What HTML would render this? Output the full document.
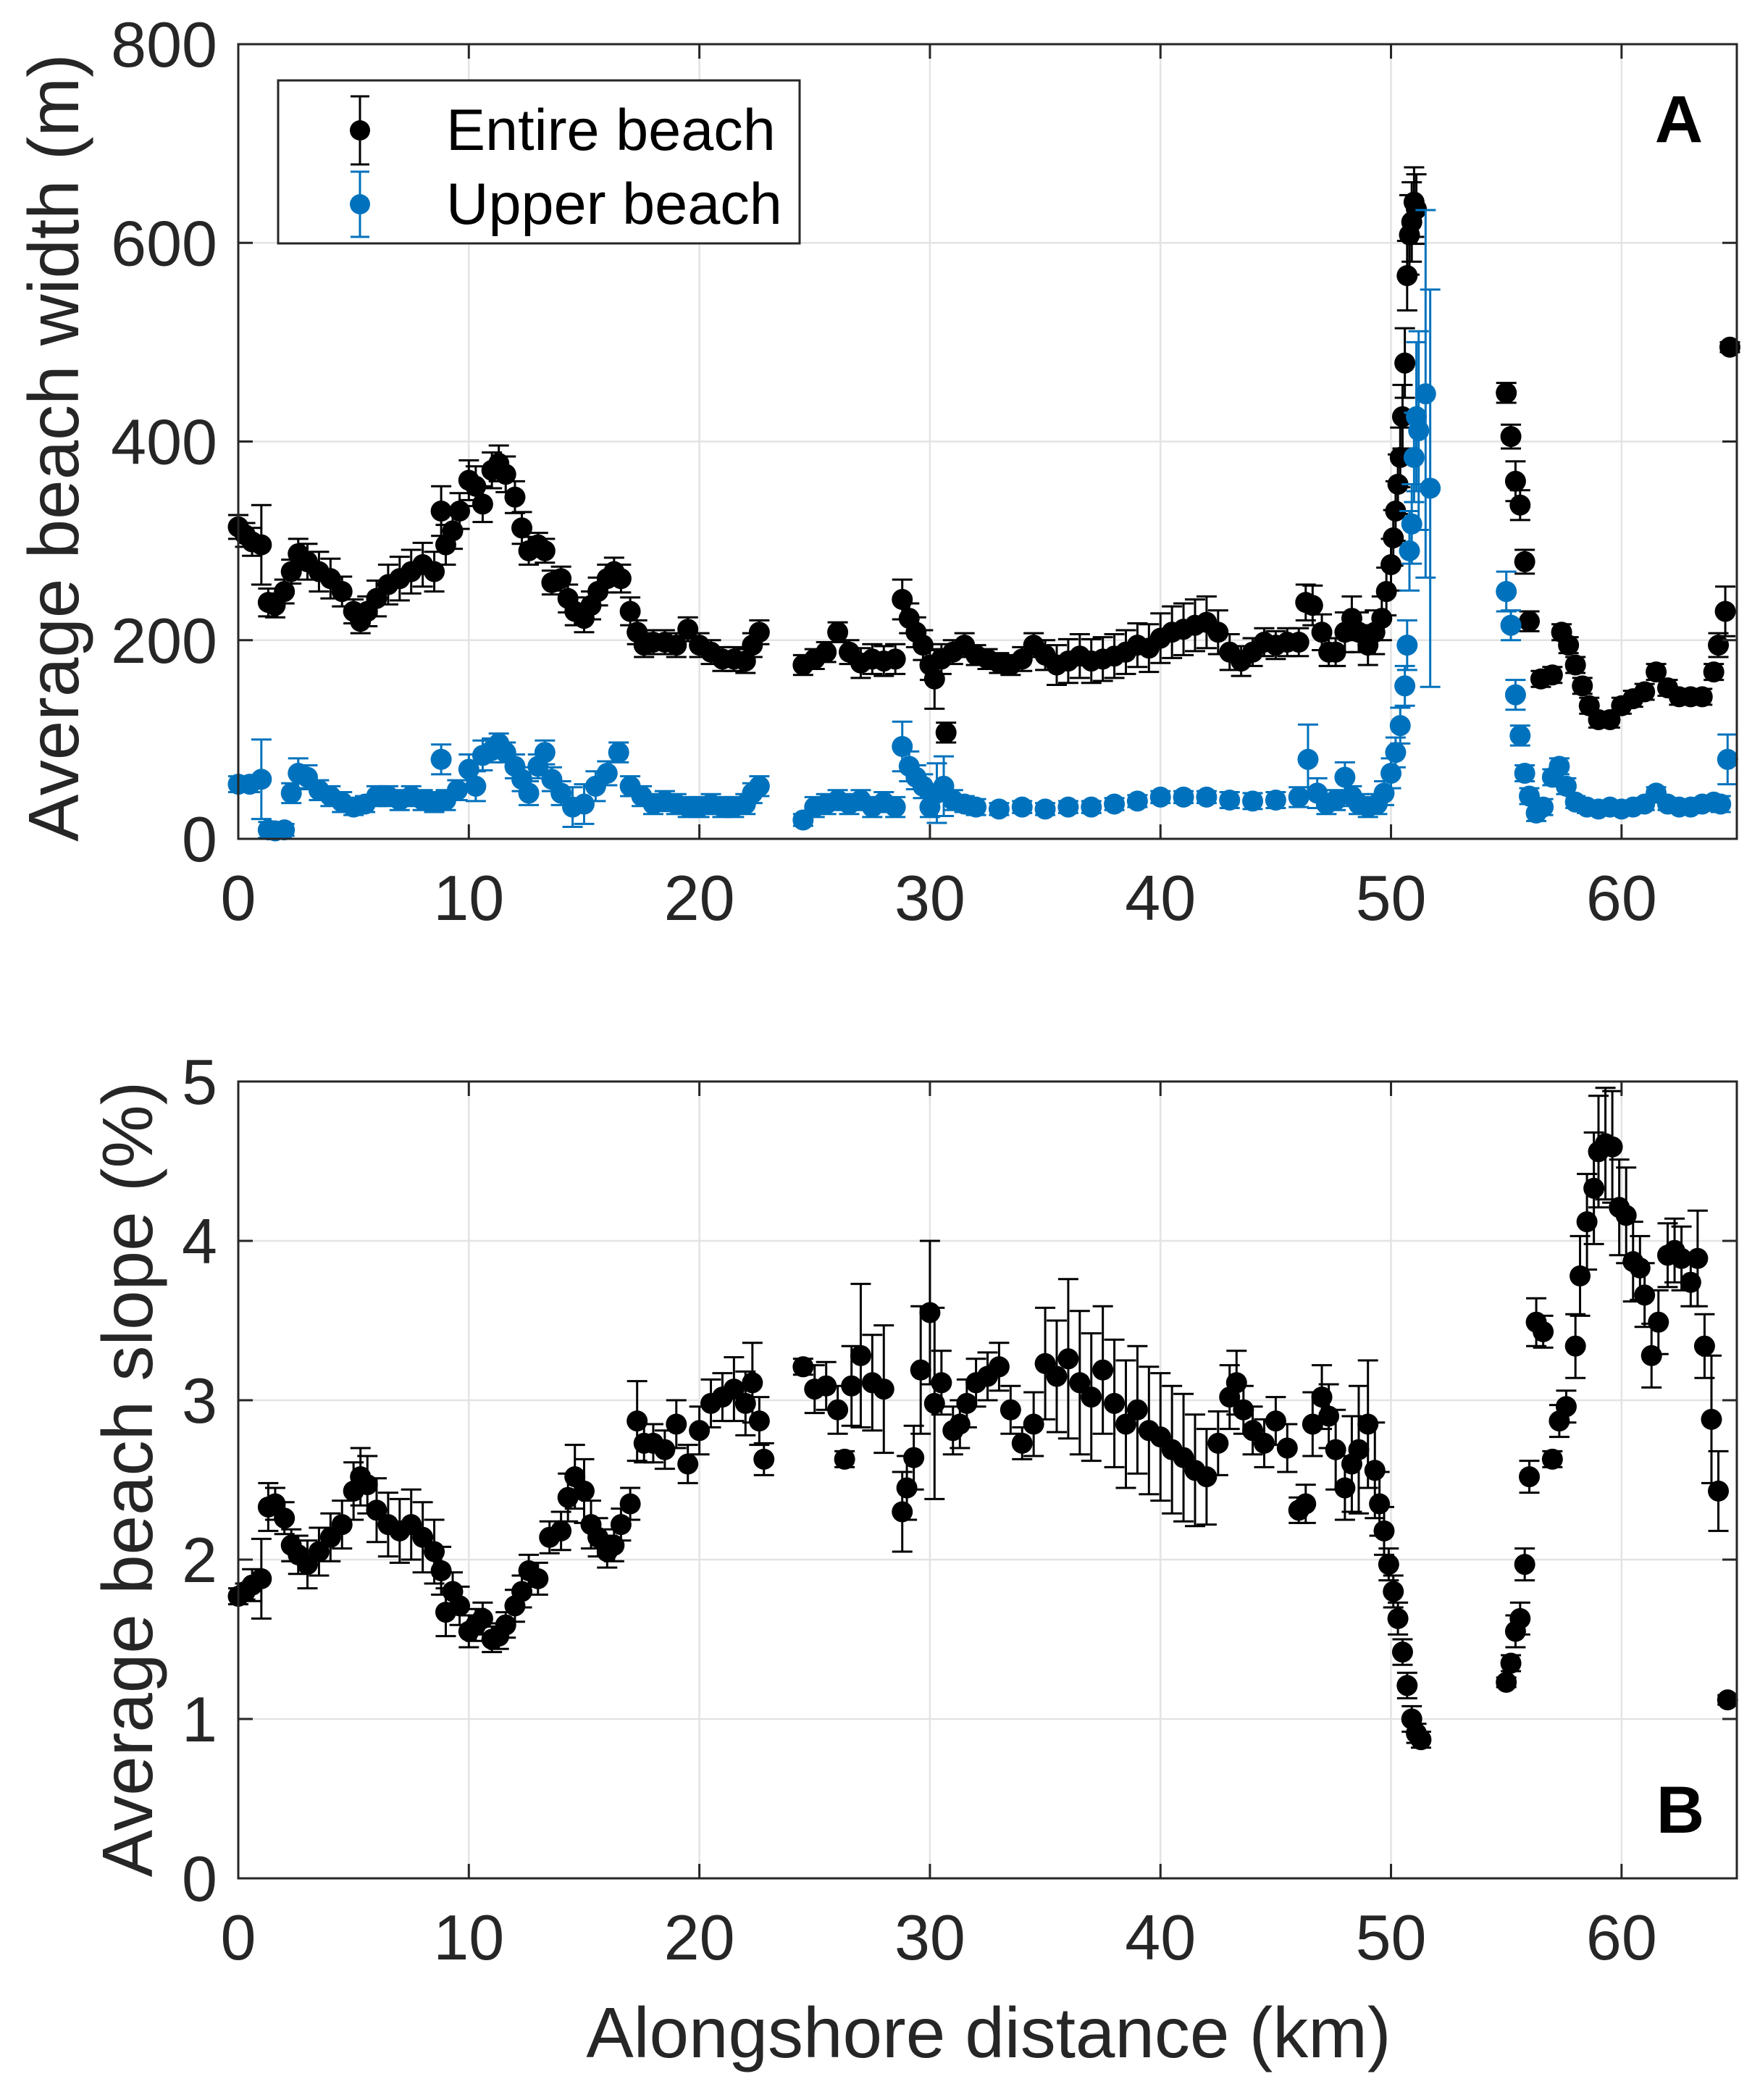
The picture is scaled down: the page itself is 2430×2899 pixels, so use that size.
<!DOCTYPE html>
<html><head><meta charset="utf-8"><style>
html,body{margin:0;padding:0;background:#fff;}
svg{display:block;}
text{font-family:"Liberation Sans",Arial,sans-serif;}
</style></head><body>
<svg id="chart" width="2430" height="2899" viewBox="0 0 2430 2899" xmlns="http://www.w3.org/2000/svg">
<rect width="2430" height="2899" fill="#fff"/>
</svg>
<script>
// ---------- Panel A data ----------
const entireX = [0,0.3,0.6,1.0,1.3,1.6,2.0,2.3,2.6,3.0,3.5,4.0,4.5,5.0,5.3,5.6,6.0,6.5,7.0,7.5,8.0,8.5,8.8,9.0,9.3,9.6,10.0,10.3,10.6,11.0,11.3,11.6,12.0,12.3,12.6,13.0,13.3,13.6,14.0,14.3,14.6,15.0,15.3,15.6,16.0,16.3,16.6,17.0,17.3,17.6,18.0,18.5,19.0,19.5,20.0,20.5,21.0,21.5,22.0,22.3,22.6,
24.5,25.0,25.5,26.0,26.5,27.0,27.5,28.0,28.5,28.8,29.1,29.4,29.7,30.0,30.2,30.5,30.7,31.0,31.5,32.0,32.5,33.0,33.5,34.0,34.5,35.0,35.5,36.0,36.5,37.0,37.5,38.0,38.5,39.0,39.5,40.0,40.5,41.0,41.5,42.0,42.5,43.0,43.5,44.0,44.5,45.0,45.5,46.0,46.3,46.6,47.0,47.3,47.6,48.0,48.3,48.6,49.0,49.3,49.6,49.8,50.0,50.1,50.2,50.3,50.4,50.5,50.6,50.7,50.8,50.9,51.0,51.1,
55.0,55.2,55.4,55.6,55.8,56.0,56.5,57.0,57.4,57.7,58.0,58.3,58.6,59.0,59.5,60.0,60.5,61.0,61.5,62.0,62.5,63.0,63.5,64.0,64.2,64.5,64.7];
const entireY = [314,306,299,296,238,235,249,269,287,279,269,262,249,229,219,229,242,256,262,269,276,269,330,296,310,330,361,355,337,371,378,367,344,313,290,296,290,258,262,242,229,222,235,249,262,269,262,229,208,195,198,198,195,211,195,188,181,181,179,195,208,
175,181,188,208,188,177,181,179,181,241,222,208,195,175,161,181,107,188,195,185,181,177,175,181,195,185,175,179,184,179,181,184,188,195,192,202,208,211,215,218,208,188,179,188,198,195,198,198,238,235,208,188,188,208,222,208,195,208,222,249,276,303,330,357,384,425,479,567,608,621,641,634,
449,405,360,336,279,219,161,165,208,195,175,154,134,120,120,134,141,148,168,152,143,143,143,168,195,229,495];
const entireErr = [12,12,14,40,14,12,12,12,15,18,20,20,15,12,12,15,18,20,22,22,22,20,25,20,18,18,20,20,18,18,18,18,16,16,14,12,12,12,12,14,14,14,14,14,14,14,14,14,12,12,12,12,12,12,12,12,12,12,12,12,12,
10,10,10,10,12,15,15,15,15,20,15,15,15,15,30,15,10,12,12,10,10,10,10,12,12,15,20,22,22,22,22,22,22,22,24,25,26,26,26,26,22,18,15,14,14,14,14,14,18,20,18,14,14,20,22,20,20,22,22,24,26,28,30,30,30,32,35,35,40,40,35,35,
10,12,20,15,12,10,8,8,8,8,8,8,8,8,8,8,8,8,8,8,8,8,8,8,12,25,5];

const upperX = [0,0.5,1.0,1.3,1.6,2.0,2.3,2.6,3.0,3.5,4.0,4.5,5.0,5.5,6.0,6.5,7.0,7.5,8.0,8.5,8.8,9.0,9.5,10.0,10.3,10.6,11.0,11.3,11.6,12.0,12.3,12.6,13.0,13.3,13.6,14.0,14.5,15.0,15.5,16.0,16.5,17.0,17.5,18.0,18.5,19.0,19.5,20.0,20.5,21.0,21.5,22.0,22.3,22.6,
24.5,25.0,25.5,26.0,26.5,27.0,27.5,28.0,28.5,28.8,29.1,29.4,29.7,30.0,30.3,30.6,31.0,31.5,32.0,33.0,34.0,35.0,36.0,37.0,38.0,39.0,40.0,41.0,42.0,43.0,44.0,45.0,46.0,46.4,46.8,47.2,47.6,48.0,48.3,48.6,49.0,49.4,49.7,50.0,50.2,50.4,50.6,50.7,50.8,50.9,51.0,51.1,51.2,51.5,51.7,
55.0,55.2,55.4,55.6,55.8,56.0,56.3,56.6,57.0,57.3,57.6,58.0,58.5,59.0,59.5,60.0,60.5,61.0,61.5,62.0,62.5,63.0,63.5,64.0,64.3,64.6];
const upperY = [55,55,60,9,8,9,46,66,62,49,43,37,32,35,43,43,39,43,39,37,80,39,49,70,53,84,89,96,87,73,60,46,73,87,60,46,32,35,53,66,87,53,43,35,38,35,32,32,35,32,32,35,46,53,
19,32,35,39,35,39,32,37,32,93,73,62,53,32,46,53,39,35,32,30,32,30,32,32,35,38,42,42,42,39,38,39,42,80,46,35,39,62,43,35,32,35,46,66,87,114,154,195,290,317,384,425,411,448,353,
249,215,145,104,66,43,26,32,62,73,53,37,32,30,32,30,32,35,46,35,32,32,35,37,35,80];
const upperErr = [8,8,40,8,6,6,10,15,12,10,10,10,8,8,10,10,10,10,10,10,15,10,10,15,15,15,12,10,10,12,12,12,12,12,12,12,20,20,15,12,10,10,10,10,10,10,10,10,10,10,10,10,10,10,
6,10,10,10,10,10,10,10,10,25,15,12,12,10,30,30,10,8,8,6,6,6,6,6,6,6,6,6,6,8,8,8,10,35,15,10,10,15,10,10,10,10,12,15,15,18,20,25,40,40,45,75,100,185,200,
20,15,15,10,8,8,8,8,8,8,8,6,6,6,6,6,6,6,6,6,6,6,6,6,8,25];

// ---------- Panel B data ----------
const slopeX = [0,0.3,0.6,1.0,1.3,1.6,2.0,2.3,2.6,3.0,3.5,4.0,4.5,5.0,5.3,5.6,6.0,6.5,7.0,7.5,8.0,8.5,8.8,9.0,9.3,9.6,10.0,10.3,10.6,11.0,11.3,11.6,12.0,12.3,12.6,13.0,13.5,14.0,14.3,14.6,15.0,15.3,15.6,16.0,16.3,16.6,17.0,17.3,17.6,18.0,18.5,19.0,19.5,20.0,20.5,21.0,21.5,22.0,22.3,22.6,22.8,
24.5,25.0,25.5,26.0,26.3,26.6,27.0,27.5,28.0,28.8,29.0,29.3,29.6,30.0,30.2,30.5,31.0,31.3,31.6,32.0,32.5,33.0,33.5,34.0,34.5,35.0,35.5,36.0,36.5,37.0,37.5,38.0,38.5,39.0,39.5,40.0,40.5,41.0,41.5,42.0,42.5,43.0,43.3,43.6,44.0,44.5,45.0,45.5,46.0,46.3,46.6,47.0,47.3,47.6,48.0,48.3,48.6,49.0,49.3,49.5,49.7,49.9,50.1,50.3,50.5,50.7,50.9,51.1,51.3,
55.0,55.2,55.4,55.6,55.8,56.0,56.3,56.6,57.0,57.3,57.6,58.0,58.2,58.5,58.8,59.0,59.3,59.6,59.9,60.2,60.5,60.8,61.0,61.3,61.6,62.0,62.3,62.6,63.0,63.3,63.6,63.9,64.2,64.6];
const slopeY = [1.77,1.8,1.84,1.88,2.33,2.35,2.26,2.09,2.03,1.97,2.05,2.14,2.22,2.43,2.52,2.47,2.31,2.22,2.18,2.22,2.14,2.05,1.93,1.67,1.8,1.71,1.55,1.59,1.63,1.5,1.52,1.59,1.71,1.8,1.93,1.88,2.14,2.18,2.39,2.52,2.43,2.22,2.14,2.05,2.09,2.22,2.35,2.87,2.73,2.73,2.69,2.85,2.6,2.81,2.98,3.02,3.07,2.98,3.11,2.87,2.63,
3.21,3.07,3.09,2.94,2.63,3.09,3.28,3.11,3.07,2.3,2.45,2.64,3.19,3.55,2.98,3.11,2.81,2.85,2.98,3.11,3.15,3.21,2.94,2.73,2.85,3.23,3.15,3.26,3.11,3.02,3.19,2.98,2.85,2.94,2.81,2.77,2.69,2.64,2.56,2.52,2.73,3.02,3.11,2.94,2.81,2.73,2.87,2.7,2.31,2.35,2.85,3.02,2.9,2.69,2.45,2.6,2.69,2.85,2.56,2.35,2.18,1.97,1.8,1.63,1.42,1.21,1.0,0.91,0.87,
1.23,1.35,1.55,1.63,1.97,2.52,3.49,3.43,2.63,2.87,2.96,3.34,3.78,4.12,4.33,4.56,4.61,4.59,4.21,4.16,3.87,3.83,3.66,3.28,3.49,3.91,3.94,3.89,3.74,3.89,3.34,2.88,2.43,1.12];
const slopeErr = [0.05,0.05,0.1,0.25,0.15,0.1,0.1,0.1,0.12,0.15,0.15,0.15,0.15,0.18,0.18,0.18,0.2,0.2,0.2,0.22,0.22,0.2,0.15,0.15,0.12,0.12,0.1,0.1,0.1,0.08,0.08,0.08,0.1,0.1,0.1,0.1,0.1,0.12,0.15,0.2,0.2,0.15,0.12,0.1,0.1,0.1,0.1,0.25,0.12,0.12,0.12,0.15,0.12,0.15,0.15,0.15,0.2,0.2,0.25,0.15,0.1,
0.05,0.15,0.15,0.15,0.05,0.25,0.45,0.3,0.4,0.25,0.2,0.2,0.4,0.45,0.6,0.2,0.15,0.15,0.15,0.15,0.15,0.15,0.15,0.1,0.2,0.35,0.35,0.5,0.45,0.4,0.4,0.4,0.4,0.4,0.4,0.4,0.4,0.4,0.35,0.3,0.2,0.2,0.2,0.15,0.15,0.15,0.15,0.15,0.08,0.12,0.2,0.2,0.2,0.25,0.2,0.3,0.4,0.4,0.3,0.2,0.15,0.1,0.1,0.1,0.08,0.08,0.08,0.06,0.05,
0.03,0.05,0.1,0.1,0.1,0.1,0.15,0.1,0.05,0.1,0.1,0.2,0.25,0.3,0.35,0.35,0.35,0.35,0.3,0.3,0.25,0.2,0.2,0.2,0.2,0.2,0.2,0.2,0.15,0.3,0.2,0.4,0.25,0.03];

const xTicks = [0,10,20,30,40,50,60];
const aTicks = [0,200,400,600,800];
const bTicks = [0,1,2,3,4,5];

const NS = 'http://www.w3.org/2000/svg';
const svg = document.getElementById('chart');
function mk(tag, attrs, parent) {
  const e = document.createElementNS(NS, tag);
  for (const k in attrs) e.setAttribute(k, attrs[k]);
  (parent || svg).appendChild(e);
  return e;
}
const L = 329, R = 2398;
const xScale = v => L + (v / 65) * (R - L);

function panel(top, bottom, ymax, yTicks, name) {
  const g = mk('g', {});
  
  
  const ys = v => bottom - (v / ymax) * (bottom - top);
  xTicks.forEach(t => {
    const l = mk('line', {x1: xScale(t), x2: xScale(t), y1: top, y2: bottom, stroke: '#e3e3e3', 'stroke-width': 2.5}, g);
    
    
  });
  yTicks.forEach(t => {
    const l = mk('line', {x1: L, x2: R, y1: ys(t), y2: ys(t), stroke: '#e3e3e3', 'stroke-width': 2.5}, g);
    
    
  });
  return {g, ys};
}
function axes(top, bottom, ymax, yTicks, ys, g) {
  const box = mk('rect', {x: L, y: top, width: R - L, height: bottom - top, fill: 'none', stroke: '#262626', 'stroke-width': 3}, g);
  
  
  xTicks.forEach(t => {
    mk('line', {x1: xScale(t), x2: xScale(t), y1: bottom, y2: bottom - 20, stroke: '#262626', 'stroke-width': 3}, g);
    mk('line', {x1: xScale(t), x2: xScale(t), y1: top, y2: top + 20, stroke: '#262626', 'stroke-width': 3}, g);
    const tx = mk('text', {x: xScale(t), y: bottom + 112, 'font-size': 88, 'text-anchor': 'middle', fill: '#262626'}, g);
    tx.textContent = t;
    
    
  });
  yTicks.forEach(t => {
    mk('line', {x1: L, x2: L + 20, y1: ys(t), y2: ys(t), stroke: '#262626', 'stroke-width': 3}, g);
    mk('line', {x1: R, x2: R - 20, y1: ys(t), y2: ys(t), stroke: '#262626', 'stroke-width': 3}, g);
    const tx = mk('text', {x: 300, y: ys(t) + 31, 'font-size': 88, 'text-anchor': 'end', fill: '#262626'}, g);
    tx.textContent = t;
    
    
  });
}
function series(xs, ys_, errs, ys, color, g, name) {
  const sg = mk('g', {}, g);
  
  
  xs.forEach((x, i) => {
    const cx = xScale(x), y1 = ys(ys_[i] - errs[i]), y2 = ys(ys_[i] + errs[i]);
    mk('line', {x1: cx, x2: cx, y1: y1, y2: y2, stroke: color, 'stroke-width': 3}, sg);
    mk('line', {x1: cx - 14, x2: cx + 14, y1: y1, y2: y1, stroke: color, 'stroke-width': 3}, sg);
    mk('line', {x1: cx - 14, x2: cx + 14, y1: y2, y2: y2, stroke: color, 'stroke-width': 3}, sg);
  });
  xs.forEach((x, i) => {
    const c = mk('circle', {cx: xScale(x), cy: ys(ys_[i]), r: 14.5, fill: color}, sg);
    
    
  });
}

// Panel A
const A = panel(61, 1158, 800, aTicks, 'panel-a');
series(entireX, entireY, entireErr, A.ys, '#000', A.g, 'series-entire-beach');
series(upperX, upperY, upperErr, A.ys, '#0072BD', A.g, 'series-upper-beach');
axes(61, 1158, 800, aTicks, A.ys, A.g);

// Panel B
const B = panel(1493, 2593, 5, bTicks, 'panel-b');
series(slopeX, slopeY, slopeErr, B.ys, '#000', B.g, 'series-slope');
axes(1493, 2593, 5, bTicks, B.ys, B.g);
</script>
<script>
(function(){
  const NS='http://www.w3.org/2000/svg';
  const svg=document.getElementById('chart');
  const legend=document.createElementNS(NS,'g');
  
  
  legend.innerHTML=
   '<rect x="384" y="111" width="720" height="225" fill="#fff" stroke="#262626" stroke-width="3"/>'+
   '<line x1="497" x2="497" y1="133" y2="227" stroke="#000" stroke-width="3"/><line x1="484" x2="510" y1="133" y2="133" stroke="#000" stroke-width="3"/><line x1="484" x2="510" y1="227" y2="227" stroke="#000" stroke-width="3"/><circle cx="497" cy="180" r="14" fill="#000"/>'+
   '<line x1="497" x2="497" y1="237" y2="327" stroke="#0072BD" stroke-width="3"/><line x1="484" x2="510" y1="237" y2="237" stroke="#0072BD" stroke-width="3"/><line x1="484" x2="510" y1="327" y2="327" stroke="#0072BD" stroke-width="3"/><circle cx="497" cy="282" r="14" fill="#0072BD"/>'+
   '<text x="616" y="207" font-size="81" fill="#000">Entire beach</text>'+
   '<text x="616" y="309" font-size="81" fill="#000">Upper beach</text>';
  svg.appendChild(legend);
  const extra=document.createElementNS(NS,'g');
  extra.innerHTML=
   '<text x="2318" y="196" font-size="92" font-weight="bold" text-anchor="middle" fill="#000">A</text>'+
   '<text x="2320" y="2530" font-size="92" font-weight="bold" text-anchor="middle" fill="#000">B</text>'+
   '<text transform="translate(108,618) rotate(-90)" font-size="98" text-anchor="middle" fill="#262626">Average beach width (m)</text>'+
   '<text transform="translate(210,2042) rotate(-90)" font-size="98" text-anchor="middle" fill="#262626">Average beach slope (%)</text>'+
   '<text x="1365" y="2840" font-size="98" text-anchor="middle" fill="#262626">Alongshore distance (km)</text>';
  svg.appendChild(extra);
})();
</script>
</body></html>
